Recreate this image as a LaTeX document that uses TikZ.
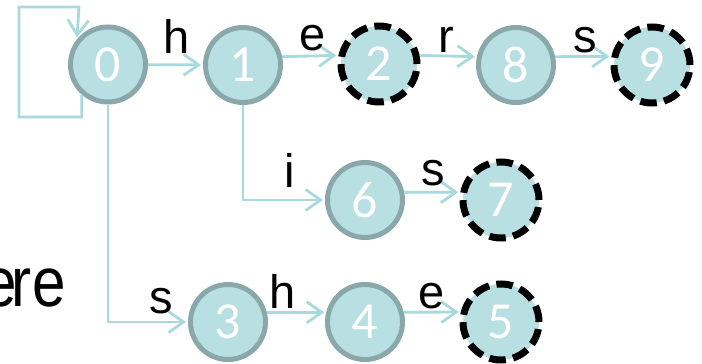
\documentclass[tikz,border=0pt]{standalone}
\usepackage{fontspec}
\setmainfont{Liberation Sans}
\newfontfamily\digitfont{Carlito}
\newfontfamily\narrowsans[FakeStretch=0.86]{Liberation Sans}
\usetikzlibrary{arrows.meta}
\definecolor{nodefill}{HTML}{B8DFE2}
\definecolor{nodeborder}{HTML}{8AA8AA}
\definecolor{edgecol}{HTML}{A8D9DC}
\tikzset{
  state/.style={circle, fill=nodefill, draw=nodeborder, line width=5pt,
    minimum size=75pt, inner sep=0pt, text=white,
    font=\digitfont\fontsize{52}{60}\selectfont},
  finalstate/.style={state, draw=black, line width=7pt, minimum size=76pt,
    dash pattern=on 16.5pt off 7.4pt},
  edge/.style={draw=edgecol, line width=2.8pt,
    -{Straight Barb[length=15pt,width=21pt]}, shorten >=2pt},
  lbl/.style={anchor=base, inner sep=0pt, font=\fontsize{47}{50}\selectfont},
}
\begin{document}
\begin{tikzpicture}[x=1pt,y=-1pt]
\useasboundingbox (0,0) rectangle (702,364);
% states
\node[state] (n0) at (108,64.5) {0};
\node[state] (n1) at (243,65) {1};
\node[finalstate] (n2) at (379,64) {2};
\node[state] (n8) at (516,65) {8};
\node[finalstate] (n9) at (652,65) {9};
\node[state] (n6) at (365,200) {6};
\node[finalstate] (n7) at (501,200) {7};
\node[state] (n3) at (228,322) {3};
\node[state] (n4) at (365,322) {4};
\node[finalstate] (n5) at (501,322) {5};
% self loop corners
\coordinate (lb) at (19,117);
\coordinate (lt) at (79,7);
\draw[edge] (n0.229) |- (lb) |- (lt) -- (n0.141);
% edges
\draw[edge] (n0) -- (n1);
\draw[edge] (n1.12) -- (n2.168);
\draw[edge] (n2.12) -- (n8.168);
\draw[edge] (n8.12) -- (n9.168);
\draw[edge] (n1.south) |- (n6.west);
\draw[edge] (n6.11) -- (n7.169);
\draw[edge] (n0.south) |- (n3.west);
\draw[edge] (n3.14) -- (n4.166);
\draw[edge] (n4.14) -- (n5.166);
% labels
\node[lbl] (lh1) at (177,53) {h};
\node[lbl] (le1) at (313,50) {e};
\node[lbl] (lr) at (446,52) {r};
\node[lbl] (ls1) at (585,52) {s};
\node[lbl] (li) at (290,187) {i};
\node[lbl] (ls2) at (433,185) {s};
\node[lbl] (ls3) at (161,313) {s};
\node[lbl] (lh2) at (283,308) {h};
\node[lbl] (le2) at (432,308) {e};
% clipped text at left
\node[anchor=base east, inner sep=0pt, font=\narrowsans\fontsize{70}{80}\selectfont] (ere) at (65.7,306) {e\kern-5pt re};
\end{tikzpicture}
\end{document}
